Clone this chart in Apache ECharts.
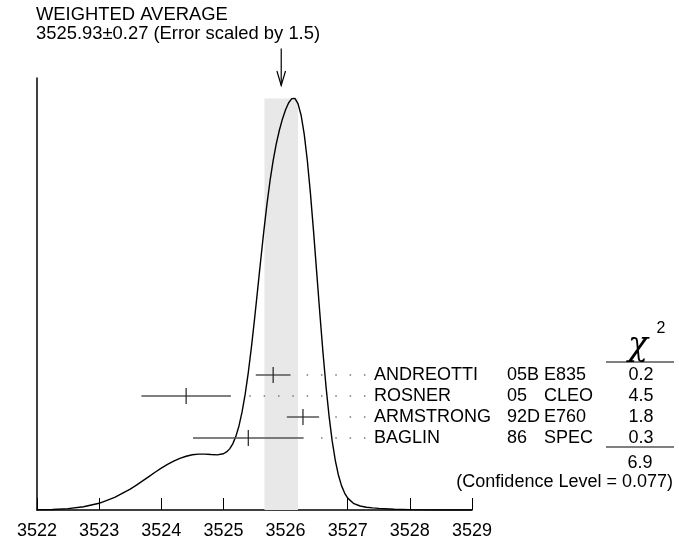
<!DOCTYPE html>
<html><head><meta charset="utf-8">
<script src="https://cdn.jsdelivr.net/npm/echarts@6/dist/echarts.min.js"></script>
<style>html,body{margin:0;padding:0;background:#fff}#c{width:679px;height:540px}</style>
</head><body><div id="c"></div>
<script>
// ---- data ----
const curveX = [3522.0,3522.25,3522.5,3522.75,3523.0,3523.25,3523.5,3523.6,3523.7,3523.8,3523.9,
  3524.0,3524.1,3524.2,3524.3,3524.4,3524.5,3524.6,3524.7,3524.8,3524.9,
  3525.0,3525.05,3525.1,3525.15,3525.2,3525.25,3525.3,3525.35,3525.4,3525.45,3525.5,3525.55,3525.6,3525.65,3525.7,3525.75,3525.8,3525.85,3525.9,3525.95,
  3526.0,3526.05,3526.1,3526.15,3526.2,3526.25,3526.3,3526.35,3526.4,3526.45,3526.5,3526.55,3526.6,3526.65,3526.7,3526.75,3526.8,3526.85,3526.9,3526.95,
  3527.0,3527.1,3527.2,3527.3,3527.4,3527.5,3527.75,3528.0,3528.25,3528.5,3528.75,3529.0];
const curveY = [0.04,0.12,0.31,0.74,1.55,2.91,4.85,5.77,6.74,7.73,8.73,
  9.68,10.56,11.33,11.97,12.45,12.78,12.93,12.94,12.84,12.77,
  13.02,13.43,14.15,15.31,17.04,19.46,22.70,26.82,31.82,37.63,44.09,50.94,57.86,64.57,70.75,76.22,80.88,84.74,87.9,90.53,
  92.64,94.27,95.23,95.26,94.08,91.39,86.99,80.90,73.29,64.55,55.18,45.76,36.79,28.69,21.72,15.99,11.49,8.10,5.64,3.92,
  2.75,1.47,0.92,0.65,0.49,0.37,0.18,0.08,0.04,0.01,0.01,0.0];
const expNames = ['ANDREOTTI','ROSNER','ARMSTRONG','BAGLIN'];
const expYears = ['05B','05','92D','86'];
const expTech = ['E835','CLEO','E760','SPEC'];
const expValues = [3525.8, 3524.4, 3526.28, 3525.4];
const expErrors = [0.28, 0.72, 0.26, 0.89];
const chi2Values = ['0.2','4.5','1.8','0.3'];
const chi2Total = '6.9';
const confLevel = '0.077';
const avgValue = 3525.93;
const avgError = 0.27;
const errScale = '1.5';
const xTickLabels = [3522,3523,3524,3525,3526,3527,3528,3529];

// ---- chart ----
const FONT = '"Liberation Sans", Arial, Helvetica, sans-serif';
const chart = echarts.init(document.getElementById('c'), null, {renderer:'canvas'});
const curveData = curveX.map((x,i)=>[x, curveY[i]]);
const bandTop = Math.max(...curveY);
const rowData = expValues.map((v,i)=>[v, i, expErrors[i]]);

const option = {
  animation:false,
  backgroundColor:'#fff',
  grid:[
    {left:37, right:207, top:78, bottom:28},
    {left:37, right:207, top:364.5, height:84}
  ],
  xAxis:[
    {gridIndex:0, type:'value', min:xTickLabels[0], max:xTickLabels[xTickLabels.length-1], interval:1,
     axisLine:{show:true, lineStyle:{color:'#000', width:1.5}},
     axisTick:{show:true, inside:true, length:12, lineStyle:{color:'#000', width:1}},
     axisLabel:{show:true, color:'#000', fontSize:18, fontFamily:FONT, margin:12,
       formatter:v=>xTickLabels.includes(v)?String(v):''},
     splitLine:{show:false}},
    {gridIndex:1, type:'value', min:xTickLabels[0], max:xTickLabels[xTickLabels.length-1], show:false}
  ],
  yAxis:[
    {gridIndex:0, type:'value', min:0, max:100,
     axisLine:{show:true, lineStyle:{color:'#000', width:1.5}},
     axisTick:{show:false}, axisLabel:{show:false}, splitLine:{show:false}},
    {gridIndex:1, type:'category', data:expNames, inverse:true, show:false}
  ],
  series:[
    {type:'line', xAxisIndex:0, yAxisIndex:0, data:[], z:1, silent:true, symbol:'none',
     lineStyle:{width:0},
     markArea:{silent:true, itemStyle:{color:'#e8e8e8'},
       data:[[{xAxis:avgValue-avgError, yAxis:0},{xAxis:avgValue+avgError, yAxis:bandTop}]]}},
    {type:'line', xAxisIndex:0, yAxisIndex:0, data:curveData, z:3, symbol:'none', smooth:false,
     lineStyle:{color:'#000', width:1.4}},
    {type:'custom', xAxisIndex:0, yAxisIndex:0, z:4, data:[[avgValue, bandTop]],
     renderItem:(params, api)=>{
       const p = api.coord([api.value(0), api.value(1)]);
       const x = p[0], y = p[1];
       return {type:'group', children:[
         {type:'line', shape:{x1:x, y1:y-50, x2:x, y2:y-13}, style:{stroke:'#000', lineWidth:1.2}},
         {type:'polyline', shape:{points:[[x-4.3,y-27.5],[x,y-13],[x+4.3,y-27.5]]}, style:{stroke:'#000', lineWidth:1.2, fill:null}}
       ]};
     }},
    {type:'custom', xAxisIndex:1, yAxisIndex:1, z:5, data:rowData, encode:{x:0, y:1},
     renderItem:(params, api)=>{
       const i = params.dataIndex;
       const v = api.value(0), e = api.value(2);
       const c = api.coord([v, i]);
       const l = api.coord([v-e, i]);
       const r = api.coord([v+e, i]);
       const cy = c[1];
       const kids = [
         {type:'line', shape:{x1:l[0], y1:cy, x2:r[0], y2:cy}, style:{stroke:'#555', lineWidth:1.5}},
         {type:'line', shape:{x1:c[0], y1:cy-8, x2:c[0], y2:cy+8}, style:{stroke:'#222', lineWidth:1.2}}
       ];
       const labelX = 374;
       for (let k=0; ; k++) {
         const dx = labelX - 9.3 - 14.33*k;
         if (dx <= r[0] + 10) break;
         kids.push({type:'rect', shape:{x:dx-0.75, y:cy-0.75, width:1.5, height:1.5}, style:{fill:'#777'}});
       }
       const f = '18px ' + FONT;
       kids.push({type:'text', style:{text:expNames[i], x:labelX, y:cy, font:f, fill:'#000', align:'left', verticalAlign:'middle'}});
       kids.push({type:'text', style:{text:expYears[i], x:507, y:cy, font:f, fill:'#000', align:'left', verticalAlign:'middle'}});
       kids.push({type:'text', style:{text:expTech[i], x:544, y:cy, font:f, fill:'#000', align:'left', verticalAlign:'middle'}});
       kids.push({type:'text', style:{text:chi2Values[i], x:641, y:cy, font:f, fill:'#000', align:'center', verticalAlign:'middle'}});
       return {type:'group', children:kids};
     }}
  ],
  graphic:[
    {type:'text', left:36, top:6, style:{text:'WEIGHTED AVERAGE', font:'18.4px '+FONT, fill:'#000'}},
    {type:'text', left:36, top:25, style:{text:avgValue.toFixed(2)+'\u00b1'+avgError.toFixed(2)+' (Error scaled by '+errScale+')', font:'18.4px '+FONT, fill:'#000'}},
    {type:'text', x:638, y:346, style:{text:'\u03c7', font:'italic 33px "DejaVu Serif", serif', fill:'#000', align:'center', verticalAlign:'middle'}},
    {type:'text', x:661, y:329, style:{text:'2', font:'16px '+FONT, fill:'#000', align:'center', verticalAlign:'middle'}},
    {type:'line', shape:{x1:606, y1:362, x2:674, y2:362}, style:{stroke:'#000', lineWidth:1}},
    {type:'line', shape:{x1:606, y1:447, x2:674, y2:447}, style:{stroke:'#000', lineWidth:1}},
    {type:'text', x:640, y:463.5, style:{text:chi2Total, font:'18px '+FONT, fill:'#000', align:'center', verticalAlign:'middle'}},
    {type:'text', x:673, y:482, style:{text:'(Confidence Level = '+confLevel+')', font:'18px '+FONT, fill:'#000', align:'right', verticalAlign:'middle'}}
  ]
};
chart.setOption(option);
</script>
</body></html>
